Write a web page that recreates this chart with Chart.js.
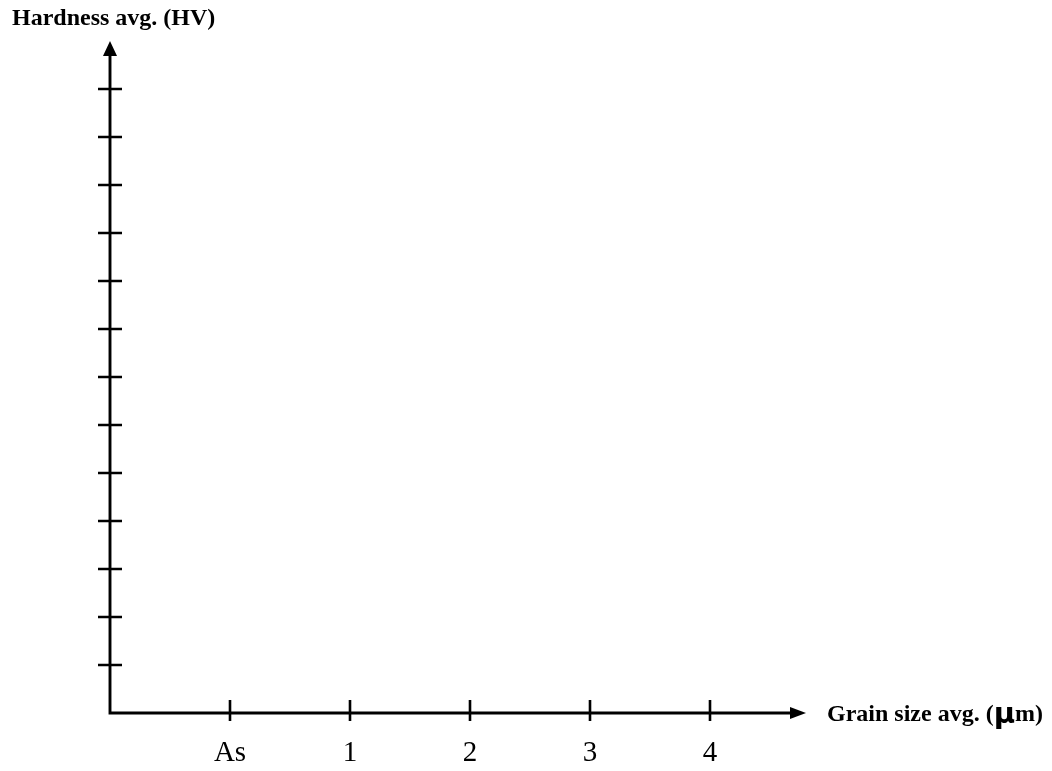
<!DOCTYPE html>
<html>
<head>
<meta charset="utf-8">
<title>Hardness vs grain size</title>
<script src="https://cdn.jsdelivr.net/npm/chart.js@4.4.1/dist/chart.umd.min.js"></script>
<style>
	html, body { margin: 0; padding: 0; background: #fff; }
	#wrap { width: 1052px; height: 771px; position: relative; }
</style>
</head>
<body>
<div id="wrap"><canvas id="chart"></canvas></div>
<script>
// Axis content (the reference is an empty template: no data points)
var xCategories = ["As", "1", "2", "3", "4"];
var xTickValues = [1, 2, 3, 4, 5];
var yTickValues = [1, 2, 3, 4, 5, 6, 7, 8, 9, 10, 11, 12, 13];
var xTitle = "Grain size avg. (";
var xTitleUnit = "μ";
var xTitleTail = "m)";
var yTitle = "Hardness avg. (HV)";

var serif = "'Liberation Serif', 'Times New Roman', serif";

// draws the crossed tick marks, axis lines with arrowheads and both titles
var axisArrows = {
	id: "axisArrows",
	afterDraw: function (chart) {
		var ctx = chart.ctx;
		var xs = chart.scales.x;
		var ys = chart.scales.y;
		var x0 = xs.getPixelForValue(0);
		var y0 = ys.getPixelForValue(0);
		var xEnd = xs.getPixelForValue(xs.max);
		var yEnd = ys.getPixelForValue(ys.max);

		ctx.save();
		ctx.strokeStyle = "#000";
		ctx.fillStyle = "#000";
		ctx.lineCap = "butt";

		// tick marks
		ctx.lineWidth = 2.6;
		ctx.beginPath();
		yTickValues.forEach(function (v) {
			var py = ys.getPixelForValue(v);
			ctx.moveTo(x0 - 12, py);
			ctx.lineTo(x0 + 12, py);
		});
		xTickValues.forEach(function (v) {
			var px = xs.getPixelForValue(v);
			ctx.moveTo(px, y0 - 13);
			ctx.lineTo(px, y0 + 8);
		});
		ctx.stroke();

		// axis lines
		ctx.lineWidth = 2.9;
		ctx.lineCap = "square";
		ctx.beginPath();
		ctx.moveTo(x0, yEnd + 14);
		ctx.lineTo(x0, y0);
		ctx.lineTo(xEnd - 14, y0);
		ctx.stroke();

		// arrowheads
		ctx.beginPath();
		ctx.moveTo(x0, yEnd);
		ctx.lineTo(x0 - 7, yEnd + 15);
		ctx.lineTo(x0 + 7, yEnd + 15);
		ctx.closePath();
		ctx.fill();
		ctx.beginPath();
		ctx.moveTo(xEnd, y0);
		ctx.lineTo(xEnd - 16, y0 - 6);
		ctx.lineTo(xEnd - 16, y0 + 6);
		ctx.closePath();
		ctx.fill();

		// titles
		ctx.textBaseline = "alphabetic";
		ctx.textAlign = "left";
		ctx.font = "bold 24px " + serif;
		ctx.fillText(yTitle, x0 - 98, yEnd - 16);

		var tx = xEnd + 21;
		var ty = y0 + 8;
		ctx.fillText(xTitle, tx, ty);
		tx += ctx.measureText(xTitle).width;
		ctx.font = "bold 29px 'DejaVu Sans', sans-serif";
		ctx.fillText(xTitleUnit, tx, ty + 2);
		tx += ctx.measureText(xTitleUnit).width;
		ctx.font = "bold 24px " + serif;
		ctx.fillText(xTitleTail, tx, ty);
		ctx.restore();
	},
};

new Chart(document.getElementById("chart"), {
	type: "scatter",
	data: {
		datasets: [{ label: "Hardness", data: [] }],
	},
	options: {
		responsive: true,
		maintainAspectRatio: false,
		animation: false,
		layout: { padding: { left: 110, top: 41, right: 246, bottom: 0 } },
		plugins: {
			legend: { display: false },
			tooltip: { enabled: false },
		},
		scales: {
			x: {
				type: "linear",
				min: 0,
				max: 5.8,
				afterBuildTicks: function (scale) {
					scale.ticks = xTickValues.map(function (v) {
						return { value: v };
					});
				},
				afterFit: function (scale) {
					scale.height = 58;
				},
				grid: { display: false },
				border: { display: false },
				ticks: {
					color: "#000",
					padding: 15,
					maxRotation: 0,
					font: { family: serif, size: 29 },
					callback: function (val) {
						var i = xTickValues.indexOf(val);
						return i >= 0 ? xCategories[i] : "";
					},
				},
			},
			y: {
				type: "linear",
				min: 0,
				max: 14,
				afterFit: function (scale) {
					scale.width = 0;
				},
				grid: { display: false },
				border: { display: false },
				ticks: { display: false },
			},
		},
	},
	plugins: [axisArrows],
});
</script>
</body>
</html>
